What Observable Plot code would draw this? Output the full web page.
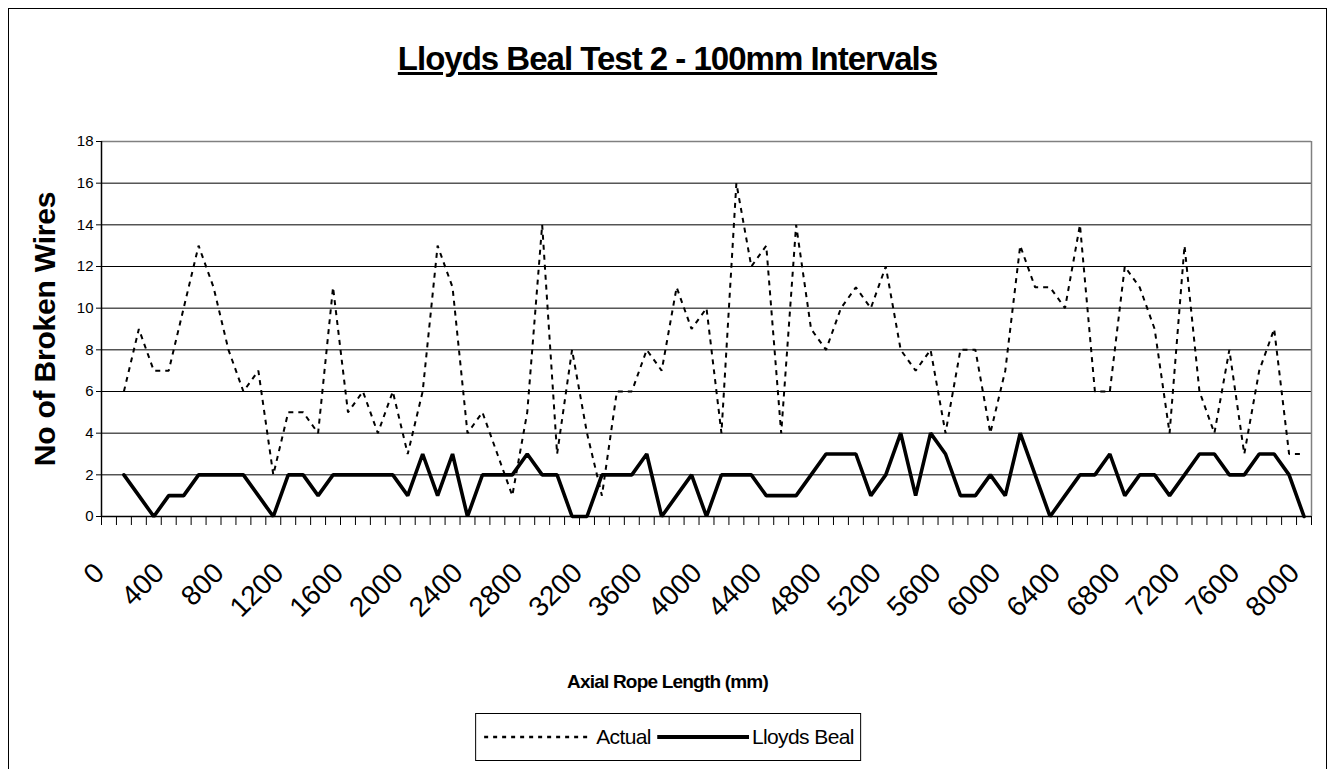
<!DOCTYPE html>
<html><head><meta charset="utf-8">
<script src="https://cdn.jsdelivr.net/npm/d3@7"></script>
<script src="https://cdn.jsdelivr.net/npm/@observablehq/plot@0.6"></script>
<style>
html,body{margin:0;padding:0;background:#fff;overflow:hidden;}
body{width:1335px;height:769px;position:relative;font-family:"Liberation Sans",Arial,sans-serif;color:#000;}
#frame{position:absolute;left:8px;top:8px;width:1319px;height:800px;border:1px solid #000;box-sizing:border-box;}
#title{position:absolute;left:0;width:1335px;top:40px;text-align:center;font-weight:bold;font-size:33px;letter-spacing:-1px;}
#title span{text-decoration:underline;}
#ylabel{position:absolute;left:45px;top:329px;transform:translate(-50%,-50%) rotate(-90deg);white-space:nowrap;font-weight:bold;font-size:30px;letter-spacing:-0.2px;}
#xlabel{position:absolute;left:0;width:1335px;top:671px;text-align:center;font-weight:bold;font-size:19px;letter-spacing:-0.8px;}
#legend{position:absolute;left:668px;top:713px;transform:translateX(-50%);border:1px solid #000;display:flex;align-items:center;padding:0 6px;height:48px;box-sizing:border-box;font-size:21px;letter-spacing:-0.6px;white-space:nowrap;}
#legend svg{display:block;}
#chart{position:absolute;left:0;top:0;}
</style></head>
<body>
<div id="frame"></div>
<div id="chart"></div>
<div id="title"><span>Lloyds Beal Test 2 - 100mm Intervals</span></div>
<div id="ylabel">No of Broken Wires</div>
<div id="xlabel">Axial Rope Length (mm)</div>
<div id="legend">
  <svg width="112" height="10"><line x1="2" y1="5" x2="110" y2="5" stroke="#000" stroke-width="2.5" stroke-dasharray="4,5"/></svg>
  <span style="margin:0 6px 0 2px">Actual</span>
  <svg width="92" height="10"><line x1="0" y1="5" x2="92" y2="5" stroke="#000" stroke-width="4"/></svg>
  <span style="margin-left:3px">Lloyds Beal</span>
</div>
<script>
// Axial rope length categories (mm)
const lengths = [100,200,300,400,500,600,700,800,900,1000,1100,1200,1300,1400,1500,1600,1700,1800,1900,2000,
  2100,2200,2300,2400,2500,2600,2700,2800,2900,3000,3100,3200,3300,3400,3500,3600,3700,3800,3900,4000,
  4100,4200,4300,4400,4500,4600,4700,4800,4900,5000,5100,5200,5300,5400,5500,5600,5700,5800,5900,6000,
  6100,6200,6300,6400,6500,6600,6700,6800,6900,7000,7100,7200,7300,7400,7500,7600,7700,7800,7900,8000];
// Series: Actual broken wires
const actual = [6,9,7,7,10,13,11,8,6,7,2,5,5,4,11,5,6,4,6,3,
  6,13,11,4,5,3,1,5,14,3,8,4,1,6,6,8,7,11,9,10,
  4,16,12,13,4,14,9,8,10,11,10,12,8,7,8,4,8,8,4,7,
  13,11,11,10,14,6,6,12,11,9,4,13,6,4,8,3,7,9,3,3];
// Series: Lloyds Beal
const lloyds = [2,1,0,1,1,2,2,2,2,1,0,2,2,1,2,2,2,2,2,1,
  3,1,3,0,2,2,2,3,2,2,0,0,2,2,2,3,0,1,2,0,
  2,2,2,1,1,1,2,3,3,3,1,2,4,1,4,3,1,1,2,1,
  4,2,0,1,2,2,3,1,2,2,1,2,3,3,2,2,3,3,2,0];
// Axis tick labels
const xTickLabels = [0,400,800,1200,1600,2000,2400,2800,3200,3600,4000,4400,4800,5200,5600,6000,6400,6800,7200,7600,8000];
const yTickLabels = [0,2,4,6,8,10,12,14,16,18];
const allCategories = [0, ...lengths];

const rows = lengths.map((l, i) => ({length: l, actual: actual[i], lloyds: lloyds[i]}));
const step = 100;
const boundaries = allCategories.map(c => c - step / 2).concat([allCategories[allCategories.length - 1] + step / 2]);

const chart = Plot.plot({
  width: 1335,
  height: 769,
  marginLeft: 101,
  marginRight: 24,
  marginTop: 141,
  marginBottom: 253,
  style: {fontFamily: "'Liberation Sans', Arial, sans-serif", background: "transparent", overflow: "visible"},
  x: {type: "linear", domain: [boundaries[0], boundaries[boundaries.length - 1]], axis: null},
  y: {type: "linear", domain: [0, 18], axis: null},
  marks: [
    Plot.gridY(yTickLabels.slice(1, -1), {stroke: "#000", strokeOpacity: 1, strokeWidth: 1}),
    Plot.ruleY([18], {stroke: "#808080", strokeWidth: 1.5}),
    Plot.ruleX([boundaries[boundaries.length - 1]], {stroke: "#808080", strokeWidth: 1.5}),
    Plot.axisY(yTickLabels, {anchor: "left", tickSize: 5, tickPadding: 3, fontSize: 15, label: null, stroke: "#000"}),
    Plot.axisX(boundaries, {anchor: "bottom", tickSize: 9, tickFormat: () => "", label: null, stroke: "#000"}),
    Plot.ruleX([boundaries[0]], {stroke: "#000", strokeWidth: 1.5}),
    Plot.ruleY([0], {stroke: "#000", strokeWidth: 1.5}),
    Plot.line(rows, {x: "length", y: "actual", stroke: "#000", strokeWidth: 2, strokeDasharray: "5,5", strokeLinecap: "butt", strokeLinejoin: "miter"}),
    Plot.line(rows, {x: "length", y: "lloyds", stroke: "#000", strokeWidth: 3.6, strokeLinejoin: "miter"}),
    Plot.text(xTickLabels, {x: d => d, text: d => String(d), frameAnchor: "bottom", dy: 58, dx: -3, rotate: -45, textAnchor: "end", lineAnchor: "bottom", fontSize: 28, fill: "#000"})
  ]
});
document.getElementById("chart").appendChild(chart);
</script>
</body></html>
